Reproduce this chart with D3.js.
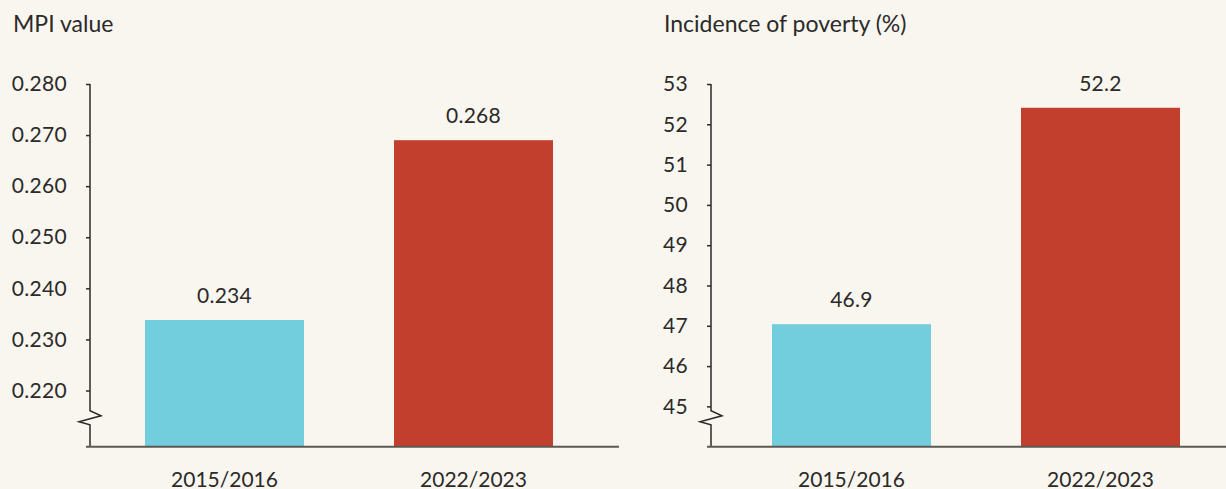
<!DOCTYPE html>
<html>
<head>
<meta charset="UTF-8">
<title>MPI and incidence of poverty</title>
<style>
body { margin: 0; background: #f9f6ef; }
svg { display: block; font-family: Lato, "Open Sans", sans-serif; }
text { fill: #2b2a29; }
</style>
</head>
<body>
<svg width="1226" height="489"></svg>
<script src="https://d3js.org/d3.v7.min.js"></script>
<script>
// data
const years = ["2015/2016", "2022/2023"];
const mpiValues = [0.2338, 0.2690];
const mpiLabels = ["0.234", "0.268"];
const mpiTicks = [0.22, 0.23, 0.24, 0.25, 0.26, 0.27, 0.28];
const povValues = [47.04, 52.41];
const povLabels = ["46.9", "52.2"];
const povTicks = [45, 46, 47, 48, 49, 50, 51, 52, 53];
const barColors = ["#72cddc", "#c33f2d"];

const svg = d3.select("svg");
const base = 446.7;

function panel(opt) {
  let g = svg.append("g");

  let y = d3.scaleLinear().domain(opt.domain).range([base, 84]);
  let x = d3.scaleBand().domain(years)
    .range([opt.axisX, opt.axisX + opt.gap * 2 + 249 + 159])
    .paddingInner(90 / 249).paddingOuter(opt.gap / 249);

  // title
  g.append("text")
    .attr("x", opt.titleX).attr("y", 32)
    .style("font-size", "23px")
    .text(opt.title);

  // bars
  g.selectAll("rect.bar").data(opt.values).join("rect")
    .attr("class", "bar")
    .attr("x", (d, i) => x(years[i]))
    .attr("width", x.bandwidth())
    .attr("y", d => y(d))
    .attr("height", d => base - y(d))
    .attr("fill", (d, i) => barColors[i]);

  // value labels
  g.selectAll("text.val").data(opt.values).join("text")
    .attr("class", "val")
    .attr("x", (d, i) => x(years[i]) + x.bandwidth() / 2)
    .attr("y", d => y(d) - 17)
    .attr("text-anchor", "middle")
    .style("font-size", "21px")
    .style("letter-spacing", "0.3px")
    .text((d, i) => opt.labels[i]);

  // y axis
  let axis = d3.axisLeft(y).tickValues(opt.ticks).tickFormat(opt.fmt).tickSize(4).tickPadding(19);
  let ag = g.append("g").attr("transform", `translate(${opt.axisX},0)`).call(axis);
  ag.select(".domain").remove();
  ag.selectAll(".tick line").attr("stroke", "#2b2a29").attr("stroke-width", 1.5);
  ag.selectAll(".tick text")
    .style("font-size", "21px")
    .style("letter-spacing", "0.3px")
    .attr("fill", "#2b2a29")
    .style("font-family", "Lato, 'Open Sans', sans-serif");

  // axis line with break
  let ax = opt.axisX, top = y(opt.ticks[opt.ticks.length - 1]);
  g.append("path")
    .attr("d", `M${ax},${top} L${ax},${base - 36} L${ax + 11},${base - 31} L${ax - 11},${base - 25} L${ax},${base - 22} L${ax},${base}`)
    .attr("fill", "none").attr("stroke", "#2b2a29").attr("stroke-width", 1.5);

  // baseline
  g.append("line")
    .attr("x1", ax - 4).attr("x2", opt.baseEnd)
    .attr("y1", base).attr("y2", base)
    .attr("stroke", "#5c5853").attr("stroke-width", 2);

  // x labels
  g.selectAll("text.cat").data(years).join("text")
    .attr("class", "cat")
    .attr("x", d => x(d) + x.bandwidth() / 2)
    .attr("y", 487)
    .attr("text-anchor", "middle")
    .style("font-size", "21px")
    .text(d => d);
}

panel({
  title: "MPI value", titleX: 13, axisX: 90, gap: 55,
  domain: [0.209, 0.280], values: mpiValues, labels: mpiLabels,
  ticks: mpiTicks, fmt: d3.format(".3f"), baseEnd: 619
});

panel({
  title: "Incidence of poverty (%)", titleX: 664, axisX: 711, gap: 61,
  domain: [44, 53], values: povValues, labels: povLabels,
  ticks: povTicks, fmt: d3.format("d"), baseEnd: 1226
});
</script>
</body>
</html>
